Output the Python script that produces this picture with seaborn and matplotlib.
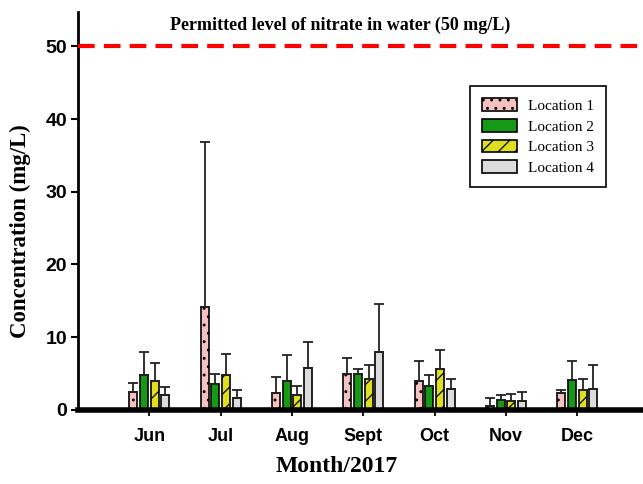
import numpy as np
import pandas as pd
import seaborn as sns
import matplotlib.pyplot as plt

months = ['Jun', 'Jul', 'Aug', 'Sept', 'Oct', 'Nov', 'Dec']
locations = ['Location 1', 'Location 2', 'Location 3', 'Location 4']

# mean concentration (mg/L) per month, one list per location
loc1 = [2.5, 14.2, 2.3, 5.0, 4.0, 0.6, 2.3]
loc2 = [4.8, 3.5, 4.0, 5.0, 3.3, 1.4, 4.1]
loc3 = [4.0, 4.8, 2.1, 4.2, 5.6, 1.2, 2.7]
loc4 = [2.1, 1.7, 5.8, 7.9, 2.9, 1.2, 2.9]

# upper error (SD)
err1 = [1.2, 22.7, 2.2, 2.1, 2.7, 1.05, 0.45]
err2 = [3.1, 1.5, 3.5, 0.65, 1.5, 0.7, 2.6]
err3 = [2.4, 2.9, 1.2, 2.0, 2.7, 1.06, 1.5]
err4 = [1.05, 1.0, 3.6, 6.7, 1.4, 1.3, 3.25]

colors = ['#ffb8b8', '#00b000', '#ffff00', '#dcdcdc']
hatches = ['..', '', '//', '']

df = pd.DataFrame({
    'month': months * 4,
    'location': np.repeat(locations, len(months)),
    'value': loc1 + loc2 + loc3 + loc4,
    'err': err1 + err2 + err3 + err4,
})

plt.rcParams['hatch.linewidth'] = 0.9
fig = plt.figure(figsize=(6.43, 4.84), dpi=100)
ax = fig.add_axes([0.1213, 0.153, 0.8787, 0.822])

# shift categories so first group sits one step from the y axis
order = [''] + months
sns.barplot(data=df, x='month', y='value', hue='location', order=order,
            hue_order=locations, palette=colors, width=0.6, gap=0.25,
            edgecolor='black', linewidth=1.2, errorbar=None, ax=ax)

bar_groups = list(ax.containers)
for i, cont in enumerate(bar_groups):
    sub = df[df['location'] == locations[i]]
    bars = [b for b in cont if not np.isnan(b.get_height())]
    xs, ys = [], []
    for bar in bars:
        bar.set_hatch(hatches[i])
        xs.append(bar.get_x() + bar.get_width() / 2)
        ys.append(bar.get_height())
    es = sub['err'].to_numpy()
    ax.errorbar(xs, ys, yerr=[np.zeros(len(es)), es], fmt='none',
                ecolor='#222222', elinewidth=1.3, capsize=3.6, capthick=1.3)

ax.axhline(50, color='#ff0000', lw=3, ls=(0, (4, 2.2)), zorder=5)
ax.text(3.67, 52.9, 'Permitted level of nitrate in water (50 mg/L)',
        ha='center', va='center', fontsize=13, fontweight='bold',
        family='Liberation Serif')

ax.set_xlim(0, 7.92)
ax.set_ylim(0, 54.7)
ax.set_yticks([0, 10, 20, 30, 40, 50])
ax.set_xticks(range(1, 8))
ax.set_xticklabels(months)
for lab in ax.get_xticklabels():
    lab.set_fontweight('bold')
    lab.set_family('Liberation Sans')
    lab.set_fontsize(13)
for lab in ax.get_yticklabels():
    lab.set_fontweight('bold')
    lab.set_family('Liberation Sans')
    lab.set_fontsize(14)
ax.tick_params(axis='y', length=5, width=1.5, pad=3)
ax.tick_params(axis='x', length=4, width=1.3, pad=9)

for s in ['top', 'right']:
    ax.spines[s].set_visible(False)
ax.spines['left'].set_linewidth(2)
ax.spines['bottom'].set_linewidth(4)

ax.set_xlabel('Month/2017', fontsize=17, fontweight='bold',
              family='Liberation Serif')
ax.set_ylabel('Concentration (mg/L)', fontsize=16.5, fontweight='bold',
              family='Liberation Serif')
ax.xaxis.set_label_coords(0.458, -0.115)
ax.yaxis.set_label_coords(-0.083, 0.45)

leg = ax.legend(loc='upper left', bbox_to_anchor=(0.694, 0.814),
                borderaxespad=0,
                prop={'family': 'Liberation Serif', 'size': 11},
                fancybox=False, edgecolor='black', framealpha=1,
                handlelength=2.3, handleheight=0.9, borderpad=0.8,
                labelspacing=0.4, handletextpad=0.7)
leg.get_frame().set_linewidth(1.2)
for h, ht in zip(leg.legend_handles, hatches):
    h.set_hatch(ht)

fig.savefig('out.png', dpi=100)
